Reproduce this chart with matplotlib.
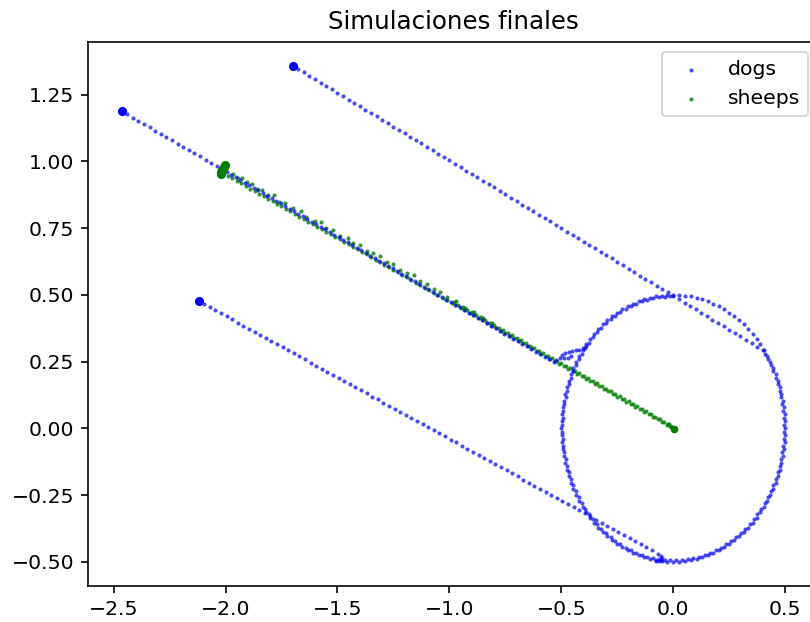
import matplotlib
matplotlib.use("Agg")
import matplotlib.pyplot as plt
import numpy as np

# ---- dog trajectories -------------------------------------------------
dog_a_x = [-2.464, -2.439, -2.414, -2.389, -2.364, -2.339, -2.314, -2.289, -2.264, -2.239,
           -2.214, -2.189, -2.164, -2.139, -2.114, -2.089, -2.064, -2.039, -2.014,
           -1.994, -1.974, -1.954, -1.934, -1.914, -1.894, -1.874, -1.854, -1.834, -1.814,
           -1.794, -1.774, -1.754, -1.734, -1.714, -1.694, -1.674, -1.654, -1.634, -1.614,
           -1.594, -1.574, -1.554, -1.534, -1.514, -1.494, -1.474, -1.454, -1.434, -1.414,
           -1.394, -1.374, -1.354, -1.334, -1.314, -1.294, -1.274, -1.254, -1.234, -1.214,
           -1.194, -1.174, -1.154, -1.134, -1.114, -1.094, -1.074, -1.054, -1.034, -1.014,
           -0.994, -0.974, -0.954, -0.934, -0.914, -0.894, -0.874, -0.854, -0.834, -0.814,
           -0.794, -0.774, -0.754, -0.734, -0.714, -0.694, -0.674, -0.654, -0.634, -0.614,
           -0.594, -0.574, -0.554, -0.534,
           -0.522, -0.508, -0.495, -0.490, -0.472, -0.457, -0.483, -0.468, -0.452, -0.436,
           -0.420, -0.405, -0.392]
dog_a_y = [1.188, 1.176, 1.164, 1.151, 1.139, 1.127, 1.115, 1.103, 1.091, 1.078,
           1.066, 1.054, 1.042, 1.030, 1.018, 1.005, 0.993, 0.981, 0.969,
           0.959, 0.949, 0.940, 0.930, 0.920, 0.910, 0.901, 0.891, 0.881, 0.871,
           0.862, 0.852, 0.842, 0.833, 0.823, 0.813, 0.803, 0.794, 0.784, 0.774,
           0.764, 0.755, 0.745, 0.735, 0.725, 0.716, 0.706, 0.696, 0.686, 0.677,
           0.667, 0.657, 0.647, 0.638, 0.628, 0.618, 0.609, 0.599, 0.589, 0.579,
           0.570, 0.560, 0.550, 0.540, 0.531, 0.521, 0.511, 0.501, 0.492, 0.482,
           0.472, 0.462, 0.453, 0.443, 0.433, 0.423, 0.414, 0.404, 0.394, 0.384,
           0.375, 0.365, 0.355, 0.345, 0.336, 0.326, 0.316, 0.307, 0.297, 0.287,
           0.277, 0.268, 0.258, 0.248,
           0.254, 0.264, 0.274, 0.265, 0.263, 0.271, 0.282, 0.287, 0.290, 0.292,
           0.294, 0.300, 0.310]

dog_b_x = [-1.700, -1.675, -1.650, -1.625, -1.600, -1.575, -1.550, -1.525, -1.500, -1.475,
           -1.450, -1.425, -1.400, -1.375, -1.350, -1.325, -1.300, -1.275, -1.250, -1.225,
           -1.200, -1.175, -1.150, -1.125, -1.100, -1.075, -1.050, -1.025, -1.000, -0.975,
           -0.950, -0.925, -0.900, -0.875, -0.850, -0.825, -0.800, -0.775, -0.750, -0.725,
           -0.700, -0.675, -0.650, -0.625, -0.600, -0.575, -0.550, -0.525, -0.500, -0.475,
           -0.450, -0.425, -0.400, -0.375, -0.350, -0.325, -0.300, -0.275, -0.250, -0.225,
           -0.200, -0.175, -0.150, -0.125, -0.100, -0.075, -0.050, -0.025, 0.000, 0.025,
           0.050, 0.075, 0.100, 0.125, 0.150, 0.175, 0.200, 0.225, 0.250, 0.275,
           0.300, 0.325, 0.350, 0.375, 0.400]
dog_b_y = [1.358, 1.345, 1.333, 1.320, 1.307, 1.295, 1.282, 1.269, 1.257, 1.244,
           1.231, 1.219, 1.206, 1.193, 1.181, 1.168, 1.155, 1.143, 1.130, 1.117,
           1.105, 1.092, 1.079, 1.067, 1.054, 1.041, 1.028, 1.016, 1.003, 0.990,
           0.978, 0.965, 0.952, 0.940, 0.927, 0.914, 0.902, 0.889, 0.876, 0.864,
           0.851, 0.838, 0.826, 0.813, 0.800, 0.788, 0.775, 0.762, 0.750, 0.737,
           0.724, 0.712, 0.699, 0.686, 0.674, 0.661, 0.648, 0.636, 0.623, 0.610,
           0.598, 0.585, 0.572, 0.560, 0.547, 0.534, 0.521, 0.509, 0.496, 0.483,
           0.471, 0.458, 0.445, 0.433, 0.420, 0.407, 0.395, 0.382, 0.369, 0.357,
           0.344, 0.331, 0.319, 0.306, 0.293]

dog_c_x = [-2.120, -2.095, -2.070, -2.045, -2.020, -1.995, -1.970, -1.945, -1.920, -1.895,
           -1.870, -1.845, -1.820, -1.795, -1.770, -1.745, -1.720, -1.695, -1.670, -1.645,
           -1.620, -1.595, -1.570, -1.545, -1.520, -1.495, -1.470, -1.445, -1.420, -1.395,
           -1.370, -1.345, -1.320, -1.295, -1.270, -1.245, -1.220, -1.195, -1.170, -1.145,
           -1.120, -1.095, -1.070, -1.045, -1.020, -0.995, -0.970, -0.945, -0.920, -0.895,
           -0.870, -0.845, -0.820, -0.795, -0.770, -0.745, -0.720, -0.695, -0.670, -0.645,
           -0.620, -0.595, -0.570, -0.545, -0.520, -0.495, -0.470, -0.445, -0.420, -0.395,
           -0.370, -0.345, -0.320, -0.295, -0.270, -0.245, -0.220, -0.195, -0.170, -0.145,
           -0.120, -0.095, -0.070,
           -0.056, -0.050, -0.054, -0.064, -0.078]
dog_c_y = [0.477, 0.465, 0.454, 0.442, 0.431, 0.419, 0.408, 0.396, 0.385, 0.373,
           0.362, 0.350, 0.339, 0.327, 0.316, 0.304, 0.292, 0.281, 0.269, 0.258,
           0.246, 0.235, 0.223, 0.212, 0.200, 0.189, 0.177, 0.166, 0.154, 0.142,
           0.131, 0.119, 0.108, 0.096, 0.085, 0.073, 0.062, 0.050, 0.039, 0.027,
           0.016, 0.004, -0.007, -0.019, -0.030, -0.042, -0.053, -0.065, -0.077, -0.088,
           -0.100, -0.111, -0.123, -0.134, -0.146, -0.157, -0.169, -0.180, -0.192, -0.204,
           -0.215, -0.227, -0.238, -0.250, -0.261, -0.273, -0.284, -0.296, -0.307, -0.319,
           -0.330, -0.342, -0.353, -0.365, -0.377, -0.388, -0.400, -0.411, -0.423, -0.434,
           -0.446, -0.457, -0.469,
           -0.479, -0.487, -0.494, -0.497, -0.497]

# dogs circling the flock once it is gathered
ring_x = [0.500, 0.499, 0.497, 0.494, 0.489, 0.483, 0.476, 0.467, 0.457, 0.446,
          0.433, 0.419, 0.405, 0.389, 0.372, 0.354, 0.335, 0.315, 0.294, 0.272,
          0.250, 0.227, 0.203, 0.179, 0.155, 0.129, 0.104, 0.078, 0.052, 0.026,
          0.000, -0.026, -0.052, -0.078, -0.104, -0.129, -0.155, -0.179, -0.203, -0.227,
          -0.250, -0.272, -0.294, -0.315, -0.335, -0.354, -0.372, -0.389, -0.405, -0.419,
          -0.433, -0.446, -0.457, -0.467, -0.476, -0.483, -0.489, -0.494, -0.497, -0.499,
          -0.500, -0.499, -0.497, -0.494, -0.489, -0.483, -0.476, -0.467, -0.457, -0.446,
          -0.433, -0.419, -0.405, -0.389, -0.372, -0.354, -0.335, -0.315, -0.294, -0.272,
          -0.250, -0.227, -0.203, -0.179, -0.155, -0.129, -0.104, -0.078, -0.052, -0.026,
          0.000, 0.026, 0.052, 0.078, 0.104, 0.129, 0.155, 0.179, 0.203, 0.227,
          0.250, 0.272, 0.294, 0.315, 0.335, 0.354, 0.372, 0.389, 0.405, 0.419,
          0.433, 0.446, 0.457, 0.467, 0.476, 0.483, 0.489, 0.494, 0.497, 0.499]
ring_y = [0.000, 0.026, 0.052, 0.078, 0.104, 0.129, 0.155, 0.179, 0.203, 0.227,
          0.250, 0.272, 0.294, 0.315, 0.335, 0.354, 0.372, 0.389, 0.405, 0.419,
          0.433, 0.446, 0.457, 0.467, 0.476, 0.483, 0.489, 0.494, 0.497, 0.499,
          0.500, 0.499, 0.497, 0.494, 0.489, 0.483, 0.476, 0.467, 0.457, 0.446,
          0.433, 0.419, 0.405, 0.389, 0.372, 0.354, 0.335, 0.315, 0.294, 0.272,
          0.250, 0.227, 0.203, 0.179, 0.155, 0.129, 0.104, 0.078, 0.052, 0.026,
          0.000, -0.026, -0.052, -0.078, -0.104, -0.129, -0.155, -0.179, -0.203, -0.227,
          -0.250, -0.272, -0.294, -0.315, -0.335, -0.354, -0.372, -0.389, -0.405, -0.419,
          -0.433, -0.446, -0.457, -0.467, -0.476, -0.483, -0.489, -0.494, -0.497, -0.499,
          -0.500, -0.499, -0.497, -0.494, -0.489, -0.483, -0.476, -0.467, -0.457, -0.446,
          -0.433, -0.419, -0.405, -0.389, -0.372, -0.354, -0.335, -0.315, -0.294, -0.272,
          -0.250, -0.227, -0.203, -0.179, -0.155, -0.129, -0.104, -0.078, -0.052, -0.026]

ring2_x = [-0.013, -0.039, -0.065, -0.090, -0.116, -0.141, -0.165, -0.189, -0.213, -0.236,
           -0.259, -0.280, -0.301, -0.321, -0.341, -0.359, -0.376, -0.393, -0.408, -0.422,
           -0.435, -0.447, -0.457, -0.467, -0.475, -0.481, -0.487, -0.491, -0.493, -0.495,
           -0.495, -0.493, -0.491, -0.487, -0.481, -0.475, -0.467, -0.457, -0.447, -0.435,
           -0.422, -0.408, -0.393, -0.376, -0.359, -0.341, -0.321, -0.301, -0.280, -0.259,
           -0.236, -0.213, -0.189, -0.165, -0.141, -0.116, -0.090, -0.065, -0.039, -0.013,
           0.013, 0.039, 0.065, 0.090, 0.116, 0.141, 0.165, 0.189, 0.213, 0.236,
           0.259, 0.280, 0.301, 0.321, 0.341, 0.359, 0.376, 0.393, 0.408, 0.422,
           0.435, 0.447, 0.457, 0.467, 0.475, 0.481, 0.487, 0.491, 0.493, 0.495,
           0.495, 0.493, 0.491, 0.487, 0.481, 0.475, 0.467, 0.457, 0.447, 0.435,
           0.422, 0.408]
ring2_y = [0.495, 0.493, 0.491, 0.487, 0.481, 0.475, 0.467, 0.457, 0.447, 0.435,
           0.422, 0.408, 0.393, 0.376, 0.359, 0.341, 0.321, 0.301, 0.280, 0.259,
           0.236, 0.213, 0.189, 0.165, 0.141, 0.116, 0.090, 0.065, 0.039, 0.013,
           -0.013, -0.039, -0.065, -0.090, -0.116, -0.141, -0.165, -0.189, -0.213, -0.236,
           -0.259, -0.280, -0.301, -0.321, -0.341, -0.359, -0.376, -0.393, -0.408, -0.422,
           -0.435, -0.447, -0.457, -0.467, -0.475, -0.481, -0.487, -0.491, -0.493, -0.495,
           -0.495, -0.493, -0.491, -0.487, -0.481, -0.475, -0.467, -0.457, -0.447, -0.435,
           -0.422, -0.408, -0.393, -0.376, -0.359, -0.341, -0.321, -0.301, -0.280, -0.259,
           -0.236, -0.213, -0.189, -0.165, -0.141, -0.116, -0.090, -0.065, -0.039, -0.013,
           0.013, 0.039, 0.065, 0.090, 0.116, 0.141, 0.165, 0.189, 0.213, 0.236,
           0.259, 0.280]

dog_start_x = [-2.464, -1.700, -2.120]
dog_start_y = [1.188, 1.358, 0.477]

# ---- sheep trajectories -----------------------------------------------
sheep_x = [-1.99, -1.97, -1.95, -1.93, -1.91, -1.89, -1.87, -1.85, -1.83, -1.81,
           -1.79, -1.77, -1.75, -1.73, -1.71, -1.69, -1.67, -1.65, -1.63, -1.61,
           -1.59, -1.57, -1.55, -1.53, -1.51, -1.49, -1.47, -1.45, -1.43, -1.41,
           -1.39, -1.37, -1.35, -1.33, -1.31, -1.29, -1.27, -1.25, -1.23, -1.21,
           -1.19, -1.17, -1.15, -1.13, -1.11, -1.09, -1.07, -1.05, -1.03, -1.01,
           -0.99, -0.97, -0.95, -0.93, -0.91, -0.89, -0.87, -0.85, -0.83, -0.81,
           -0.79, -0.77, -0.75, -0.73, -0.71, -0.69, -0.67, -0.65, -0.63, -0.61,
           -0.59, -0.57, -0.55, -0.53, -0.51, -0.49, -0.47, -0.45, -0.43, -0.41,
           -0.39, -0.37, -0.35, -0.33, -0.31, -0.29, -0.27, -0.25, -0.23, -0.21,
           -0.19, -0.17, -0.15, -0.13, -0.11, -0.09, -0.07, -0.05, -0.03, -0.01]
sheep_y = [0.945, 0.936, 0.926, 0.917, 0.907, 0.898, 0.888, 0.879, 0.869, 0.860,
           0.850, 0.841, 0.831, 0.822, 0.812, 0.803, 0.793, 0.784, 0.774, 0.765,
           0.755, 0.746, 0.736, 0.727, 0.717, 0.708, 0.698, 0.689, 0.679, 0.670,
           0.660, 0.651, 0.641, 0.632, 0.622, 0.613, 0.603, 0.594, 0.584, 0.575,
           0.565, 0.556, 0.546, 0.537, 0.527, 0.518, 0.508, 0.499, 0.489, 0.480,
           0.470, 0.461, 0.451, 0.442, 0.432, 0.423, 0.413, 0.404, 0.394, 0.385,
           0.375, 0.366, 0.356, 0.347, 0.337, 0.328, 0.318, 0.309, 0.299, 0.290,
           0.280, 0.271, 0.261, 0.252, 0.242, 0.233, 0.223, 0.214, 0.204, 0.195,
           0.185, 0.176, 0.166, 0.157, 0.147, 0.138, 0.128, 0.119, 0.109, 0.100,
           0.090, 0.081, 0.071, 0.062, 0.052, 0.043, 0.033, 0.024, 0.014, 0.005]

sheep2_x = [-0.98, -0.96, -0.94, -0.92, -0.90, -0.88, -0.86, -0.84, -0.82, -0.80,
            -0.78, -0.76, -0.74, -0.72, -0.70, -0.68, -0.66, -0.64, -0.62, -0.60,
            -0.58, -0.56, -0.54, -0.52, -0.50, -0.48, -0.46, -0.44, -0.42, -0.40,
            -0.38, -0.36, -0.34, -0.32, -0.30, -0.28, -0.26, -0.24, -0.22, -0.20,
            -0.18, -0.16, -0.14, -0.12, -0.10, -0.08, -0.06, -0.04, -0.02,
            -0.025, -0.015, -0.005, 0.003, 0.006, -0.002]
sheep2_y = [0.472, 0.462, 0.453, 0.443, 0.434, 0.424, 0.415, 0.405, 0.396, 0.386,
            0.377, 0.367, 0.358, 0.348, 0.339, 0.329, 0.320, 0.310, 0.301, 0.291,
            0.282, 0.272, 0.263, 0.253, 0.244, 0.234, 0.225, 0.215, 0.206, 0.196,
            0.187, 0.177, 0.168, 0.158, 0.149, 0.139, 0.130, 0.120, 0.111, 0.101,
            0.092, 0.082, 0.073, 0.063, 0.054, 0.044, 0.035, 0.025, 0.016,
            0.015, 0.009, 0.004, 0.001, -0.003, -0.004]

# stragglers drifting just above the main trail
stray_x = [-1.965, -1.945, -1.925, -1.905, -1.880, -1.860, -1.835, -1.810, -1.785, -1.760,
           -1.735, -1.700, -1.665, -1.640, -1.600, -1.575, -1.550, -1.520, -1.490, -1.455,
           -1.430, -1.400, -1.370, -1.340, -1.310, -1.280, -1.250, -1.220, -1.190, -1.160,
           -1.130, -1.100, -1.070, -1.040, -1.010, -0.970, -0.930, -0.890, -0.850, -0.810]
stray_y = [0.953, 0.938, 0.938, 0.921, 0.915, 0.896, 0.892, 0.875, 0.872, 0.849,
           0.844, 0.824, 0.813, 0.791, 0.778, 0.772, 0.750, 0.742, 0.720, 0.713,
           0.695, 0.685, 0.663, 0.655, 0.646, 0.622, 0.614, 0.592, 0.583, 0.573,
           0.551, 0.541, 0.520, 0.510, 0.490, 0.475, 0.452, 0.435, 0.413, 0.395]

sheep_start_x = [-2.022, -2.018, -2.014, -2.010, -2.006, -2.003]
sheep_start_y = [0.954, 0.961, 0.967, 0.973, 0.979, 0.985]
sheep_end_x = [0.003]
sheep_end_y = [-0.003]

dogs_x = np.concatenate([dog_a_x, dog_b_x, dog_c_x, ring_x, ring2_x])
dogs_y = np.concatenate([dog_a_y, dog_b_y, dog_c_y, ring_y, ring2_y])
flock_x = np.concatenate([sheep_x, sheep2_x, stray_x])
flock_y = np.concatenate([sheep_y, sheep2_y, stray_y])

fig = plt.figure(figsize=(5.5103, 4.2313), dpi=147)
ax = fig.add_axes([0.10901, 0.05788, 0.90123, 0.87508])

sheep_pts = ax.scatter(flock_x, flock_y, s=4, c="g", alpha=0.8, linewidths=0, label="sheeps")
dog_pts = ax.scatter(dogs_x, dogs_y, s=4, c="b", alpha=0.7, linewidths=0, label="dogs")
ax.scatter(dog_start_x, dog_start_y, s=20, c="b", linewidths=0)
ax.scatter(sheep_start_x, sheep_start_y, s=20, c="g", linewidths=0)
ax.scatter(sheep_end_x, sheep_end_y, s=14, c="g", linewidths=0)

ax.set_xlim(-2.6128, 0.6476)
ax.set_ylim(-0.5906, 1.4479)
ax.set_title("Simulaciones finales")
ax.legend(handles=[dog_pts, sheep_pts], loc="upper right")

fig.savefig("out.png", dpi=147)
